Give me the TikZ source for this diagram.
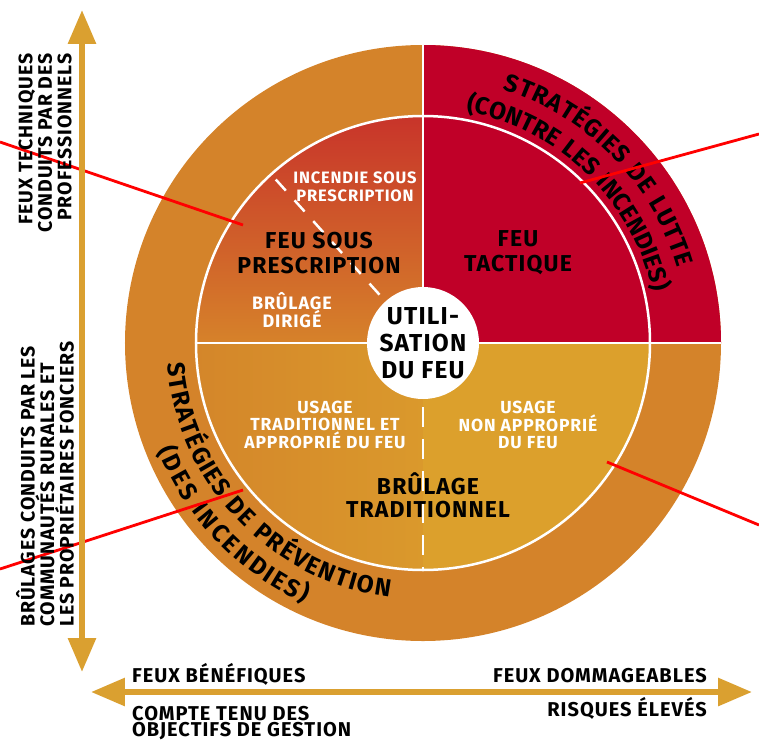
\documentclass[tikz,border=0pt]{standalone}
\usepackage{fontspec}
\setmainfont{Fira Sans}[LetterSpace=5]
\usetikzlibrary{arrows.meta,decorations.text}

\definecolor{ringorange}{HTML}{D4832A}
\definecolor{luttered}{HTML}{C00028}
\definecolor{prescred}{HTML}{C8342A}
\definecolor{prescorange}{HTML}{D6822A}
\definecolor{tradorange}{HTML}{D4862A}
\definecolor{tradlight}{HTML}{DA992C}
\definecolor{usagegold}{HTML}{DCA02C}
\definecolor{axisgold}{HTML}{DAA030}
\newcommand\curvefont{\bfseries\fontsize{24.5}{24.5}\selectfont}

\begin{document}
\begin{tikzpicture}[x=1pt,y=1pt,
    sep/.style={draw=white,line width=2.5pt},
    axis/.style={draw=axisgold,line width=6pt,arrows={Triangle[width=27pt,length=34pt]-Triangle[width=27pt,length=34pt]}},
    pointer/.style={draw=red,line width=2.8pt},
    ringtext/.style={decorate,decoration={text effects along path,text={#1},
        text effects/.cd,text along path,fit text to path,characters={font=\curvefont,anchor=base,inner sep=0pt}}},
    axislabel/.style={inner sep=0pt,font=\bfseries\fontsize{20}{16.5}\selectfont},
    sidelabel/.style={inner sep=0pt,rotate=90,font=\bfseries\fontsize{19.5}{19.5}\selectfont},
    big/.style={align=center,inner sep=0pt,font=\bfseries\fontsize{23}{25}\selectfont},
    small/.style={align=center,inner sep=0pt,text=white,font=\bfseries\fontsize{17.5}{16.5}\selectfont}]
    \useasboundingbox (-423,-399) rectangle (336,343);
    \coordinate (c) at (0,0);

    % wheel
    \fill[ringorange] (c) circle[radius=298pt];
    \fill[luttered] (c) -- (0:298) arc[start angle=0,end angle=90,radius=298pt] -- cycle;
    \shade[top color=prescred,bottom color=prescorange] (c) -- (90:227) arc[start angle=90,end angle=180,radius=227pt] -- cycle;
    \shade[left color=tradorange,right color=tradlight] (c) -- (180:227) arc[start angle=180,end angle=270,radius=227pt] -- cycle;
    \fill[usagegold] (c) -- (270:227) arc[start angle=270,end angle=360,radius=227pt] -- cycle;

    \draw[sep] (c) circle[radius=227pt];
    \draw[sep] (c) -- (90:298);
    \draw[sep] (180:227) -- (0:298);
    \draw[sep,dash pattern=on 20pt off 12pt] (c) -- (270:227);
    \draw[sep,dash pattern=on 15pt off 13pt] (132:220) -- (132:58);
    \fill[white] (c) circle[radius=56pt];

    % ring texts
    \path[ringtext={STRATÉGIES DE LUTTE}] (72.5:265.5) arc[start angle=72.5,end angle=16.5,radius=265.5pt];
    \path[ringtext={(CONTRE LES INCENDIES)}] (79.5:235.5) arc[start angle=79.5,end angle=12.5,radius=235.5pt];
    \path[ringtext={STRATÉGIES DE PRÉVENTION}] (184.5:256.5) arc[start angle=184.5,end angle=262.5,radius=256.5pt];
    \path[ringtext={(DES INCENDIES)}] (202:286) arc[start angle=202,end angle=245.5,radius=286pt];

    % quadrant texts
    \node[big,font=\bfseries\fontsize{24.5}{27}\selectfont] (hub) at (c) {UTILI-\\SATION\\DU FEU};
    \node[big] (prescfire) at (-104,90) {FEU SOUS\\PRESCRIPTION};
    \node[small,font=\bfseries\fontsize{16.5}{18}\selectfont] (prescwild) at (-68,156) {INCENDIE SOUS\\PRESCRIPTION};
    \node[small,font=\bfseries\fontsize{18}{18}\selectfont] (directed) at (-131,33) {BRÛLAGE\\DIRIGÉ};
    \node[big] (tactical) at (95,90) {FEU\\TACTIQUE};
    \node[small] (suited) at (-98,-82) {USAGE\\TRADITIONNEL ET\\APPROPRIÉ DU FEU};
    \node[small] (unsuited) at (105,-82) {USAGE\\NON APPROPRIÉ\\DU FEU};
    \node[big,font=\bfseries\fontsize{23}{23}\selectfont] (traditional) at (5,-152) {BRÛLAGE\\TRADITIONNEL};

    % pointers
    \coordinate (prescout) at (-423,201);
    \coordinate (prescin) at (-180,118);
    \coordinate (lutteout) at (336,209);
    \coordinate (luttein) at (157,160);
    \coordinate (prevout) at (-423,-226);
    \coordinate (previn) at (-180,-147);
    \coordinate (usageout) at (336,-182);
    \coordinate (usagein) at (184,-119);
    \draw[pointer] (prescout) -- (prescin);
    \draw[pointer] (lutteout) -- (luttein);
    \draw[pointer] (prevout) -- (previn);
    \draw[pointer] (usageout) -- (usagein);

    % axes
    \coordinate (vbot) at (-341,-329);
    \coordinate (vtop) at (-341,333);
    \coordinate (hleft) at (-332,-349);
    \coordinate (hright) at (329,-349);
    \draw[axis] (vbot) -- (vtop);
    \draw[axis] (hleft) -- (hright);

    \node[sidelabel,align=right,anchor=east] (pros) at (-378,290) {FEUX TECHNIQUES\\CONDUITS PAR DES\\PROFESSIONNELS};
    \node[sidelabel,align=left,anchor=west] (rural) at (-378,-284) {BRÛLAGES CONDUITS PAR LES\\COMMUNAUTÉS RURALES ET\\LES PROPRIÉTAIRES FONCIERS};
    \node[axislabel,anchor=base west] (benefit) at (-291,-339) {FEUX BÉNÉFIQUES};
    \node[axislabel,align=left,anchor=north west] (goals) at (-291,-363) {COMPTE TENU DES\\OBJECTIFS DE GESTION};
    \node[axislabel,anchor=base east] (damage) at (284,-339) {FEUX DOMMAGEABLES};
    \node[axislabel,anchor=base east] (risk) at (284,-373) {RISQUES ÉLEVÉS};
\end{tikzpicture}
\end{document}
